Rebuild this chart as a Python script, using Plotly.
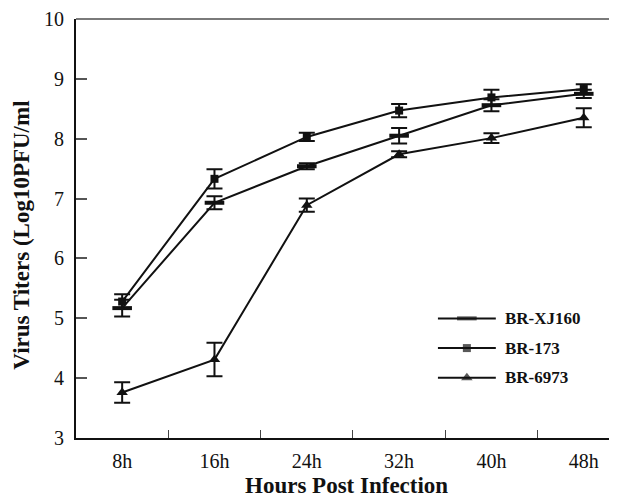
import plotly.graph_objects as go

hours = ["8h", "16h", "24h", "32h", "40h", "48h"]
xj160 = [5.17, 6.93, 7.54, 8.05, 8.56, 8.75]
xj160_err = [0.14, 0.11, 0.05, 0.13, 0.10, 0.07]
br173 = [5.28, 7.33, 8.03, 8.47, 8.69, 8.83]
br173_err = [0.12, 0.16, 0.07, 0.11, 0.13, 0.08]
br6973 = [3.76, 4.31, 6.89, 7.74, 8.01, 8.35]
br6973_err = [0.17, 0.28, 0.11, 0.05, 0.08, 0.16]
series_names = ["BR-XJ160", "BR-173", "BR-6973"]
y_ticks = [3, 4, 5, 6, 7, 8, 9, 10]

FONT = "Liberation Serif, Times New Roman, serif"
black = "#111111"

fig = go.Figure()

def add_series(y, err, symbol, size, lw):
    fig.add_trace(go.Scatter(
        x=hours, y=y, mode="lines+markers",
        line=dict(color=black, width=2),
        marker=dict(symbol=symbol, size=size, color=black,
                    line=dict(color=black, width=lw)),
        error_y=dict(type="data", array=err, visible=True,
                     color=black, thickness=2, width=8),
        showlegend=False, cliponaxis=False))

add_series(xj160, xj160_err, "line-ew", 14, 4)
add_series(br173, br173_err, "square", 8, 0)
add_series(br6973, br6973_err, "triangle-up", 10, 0)

# manual legend on an overlay axis (0..1 of the plot area)
leg_rows = [0.2855, 0.2146, 0.1436]
leg_syms = [("line-ew", 14, 4), ("square", 8, 0), ("triangle-up", 10, 0)]
for name, yr, (sym, sz, lw) in zip(series_names, leg_rows, leg_syms):
    fig.add_trace(go.Scatter(
        x=[0.669, 0.7225, 0.776], y=[yr, yr, yr], xaxis="x2", yaxis="y2",
        mode="lines+markers", line=dict(color=black, width=2),
        marker=dict(symbol=sym, size=[0, sz, 0], color=black,
                    line=dict(color=black, width=lw)),
        showlegend=False, hoverinfo="skip"))
    fig.add_annotation(x=0.789, y=yr, xref="x2", yref="y2", text=name,
                       showarrow=False, xanchor="left", yanchor="middle",
                       font=dict(family=FONT, size=17, color=black,
                                 weight="bold"))

# page body has an 8px default margin, so the figure is sized/offset to fit
fig.update_layout(
    width=609, height=489,
    margin=dict(l=68, r=0, t=7, b=59),
    paper_bgcolor="white", plot_bgcolor="white",
    font=dict(family=FONT, color=black),
    xaxis=dict(type="category", range=[-0.5, 5.36],
               showline=True, linecolor=black, linewidth=2,
               ticks="inside", tickson="boundaries", ticklen=8,
               tickcolor="#444444", tickwidth=1,
               tickfont=dict(family=FONT, size=20, color=black),
               ticklabelstandoff=4,
               showgrid=False, zeroline=False),
    yaxis=dict(range=[3, 10], tickvals=y_ticks,
               showline=True, linecolor=black, linewidth=2,
               ticks="inside", ticklen=11, tickcolor="#555555", tickwidth=1.5,
               tickfont=dict(family=FONT, size=20, color=black),
               ticklabelstandoff=6, ticklabeloverflow="allow",
               showgrid=False, zeroline=False),
    xaxis2=dict(overlaying="x", range=[0, 1], visible=False),
    yaxis2=dict(overlaying="y", range=[0, 1], visible=False),
)

# gray top frame line
fig.add_shape(type="line", xref="paper", yref="paper", x0=0, x1=1, y0=1, y1=1,
              line=dict(color="#7a7a7a", width=2))

fig.add_annotation(text="Virus Titers (Log10PFU/ml", xref="paper", yref="paper",
                   x=-0.0998, y=0.483, textangle=-90, showarrow=False,
                   xanchor="center", yanchor="middle",
                   font=dict(family=FONT, size=23, color=black, weight="bold"))
fig.add_annotation(text="Hours Post Infection", xref="paper", yref="paper",
                   x=0.5, y=-0.114, showarrow=False,
                   xanchor="center", yanchor="middle",
                   font=dict(family=FONT, size=23, color=black, weight="bold"))

fig.write_html("out.html")
